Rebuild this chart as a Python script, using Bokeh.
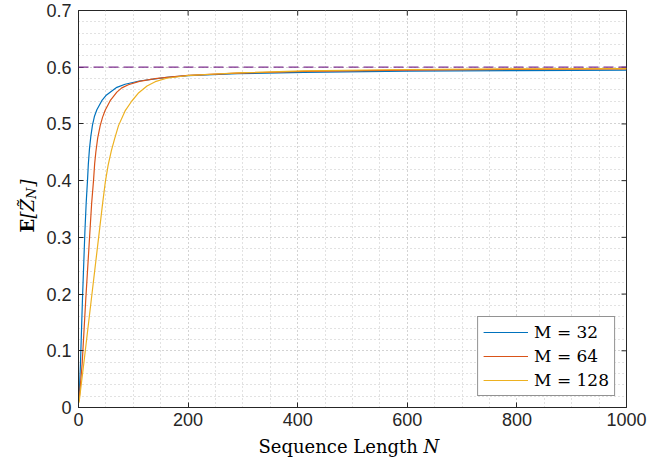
import math
from bokeh.plotting import figure
from bokeh.models import (Label, Span, Legend, LegendItem, FixedTicker,
                          ColumnDataSource, Range1d)
from bokeh.embed import file_html
from bokeh.resources import INLINE

# ---- data ----
N_M32 = [1, 3.6, 7.3, 11.6, 14, 16.4, 18, 20, 22.5, 25.5, 29, 33.5, 42.5, 50, 57.8, 70, 85,
         111, 161, 200, 290, 411, 600, 800, 1000]
Z_M32 = [0.015, 0.078, 0.193, 0.308, 0.36, 0.40, 0.43, 0.456, 0.478, 0.498, 0.513, 0.525,
         0.541, 0.550, 0.556, 0.5645, 0.570, 0.5757, 0.582, 0.585, 0.5885, 0.591, 0.593,
         0.594, 0.595]

N_M64 = [1, 2.5, 6.7, 13.4, 20.7, 24, 27.4, 29.5, 31.6, 35, 39.6, 44, 48.7, 57.8, 70, 79, 91,
         111, 140, 170, 200, 290, 411, 600, 800, 1000]
Z_M64 = [0.012, 0.028, 0.078, 0.193, 0.308, 0.36, 0.40, 0.43, 0.45, 0.475, 0.497, 0.512,
         0.524, 0.541, 0.556, 0.5635, 0.569, 0.575, 0.580, 0.583, 0.5855, 0.5895, 0.5925,
         0.595, 0.5962, 0.597]

N_M128 = [1, 9.7, 23.7, 37.7, 44, 49, 54, 60, 66, 73, 85, 97, 110, 125, 140, 161, 197, 250,
          300, 411, 600, 800, 1000]
Z_M128 = [0.0085, 0.078, 0.193, 0.308, 0.36, 0.398, 0.427, 0.453, 0.474, 0.497, 0.523, 0.540,
          0.555, 0.567, 0.5745, 0.5805, 0.585, 0.588, 0.5905, 0.5935, 0.596, 0.597, 0.5975]

LIMIT = 0.6
SERIES_LABELS = ["M = 32", "M = 64", "M = 128"]
X_TICKS = [0, 200, 400, 600, 800, 1000]
Y_TICKS = [0, 0.1, 0.2, 0.3, 0.4, 0.5, 0.6, 0.7]
X_MINOR = list(range(0, 1001, 50))
Y_MINOR = [round(i * 0.02, 2) for i in range(0, 36)]
X_MAX = 1000
Y_MAX = 0.7

COLORS = ["#0072BD", "#D95319", "#EDB120"]
AX = "#262626"

# frame geometry (pixels) used to place the axis-label pieces
W, H = 656, 458
FL, FR, FT, FB = 78, 626, 10, 407
PX_X = (FR - FL) / X_MAX
PX_Y = (FB - FT) / Y_MAX
def dx(px):
    return (px - FL) / PX_X
def dy(py):
    return (FB - py) / PX_Y

p = figure(width=W, height=H, x_range=Range1d(0, X_MAX), y_range=Range1d(0, Y_MAX),
           output_backend="svg", toolbar_location=None,
           min_border_left=FL, min_border_right=W - FR, min_border_top=FT,
           min_border_bottom=H - FB)
p.background_fill_color = "white"
p.border_fill_color = "white"
p.outline_line_color = AX
p.outline_line_width = 1

xt = FixedTicker(ticks=X_TICKS, minor_ticks=X_MINOR)
yt = FixedTicker(ticks=Y_TICKS, minor_ticks=Y_MINOR)
xax = p.below[0]
yax = p.left[0]
xax.ticker = xt
yax.ticker = yt
yax.major_label_overrides = {0: "0"}

for ax in [xax, yax]:
    ax.axis_line_color = AX
    ax.axis_line_width = 1
    ax.major_tick_line_color = AX
    ax.major_tick_in = 5
    ax.major_tick_out = 0
    ax.minor_tick_in = 0
    ax.minor_tick_out = 0
    ax.major_label_text_font = "Liberation Sans"
    ax.major_label_text_font_size = "18px"
    ax.major_label_text_color = AX
xax.major_label_standoff = 5
yax.major_label_standoff = 7

for g in [p.xgrid[0], p.ygrid[0]]:
    g.grid_line_color = "#c4c4c4"
    g.grid_line_dash = "1 3"
    g.grid_line_width = 1
    g.minor_grid_line_color = "#c4c4c4"
    g.minor_grid_line_dash = "1 3"
    g.minor_grid_line_width = 1
p.xgrid[0].ticker = xt
p.ygrid[0].ticker = yt

# mirrored inward ticks on the top and right edges (box on)
TICK_PX = 5
tx = TICK_PX / PX_X
ty = TICK_PX / PX_Y
p.segment(x0=X_TICKS, x1=X_TICKS, y0=[Y_MAX] * len(X_TICKS), y1=[Y_MAX - ty] * len(X_TICKS),
          line_color=AX, line_width=1)
p.segment(x0=[X_MAX] * len(Y_TICKS), x1=[X_MAX - tx] * len(Y_TICKS), y0=Y_TICKS, y1=Y_TICKS,
          line_color=AX, line_width=1)

renderers = []
for xs, ys, c in [(N_M32, Z_M32, COLORS[0]), (N_M64, Z_M64, COLORS[1]),
                  (N_M128, Z_M128, COLORS[2])]:
    src = ColumnDataSource(dict(x=xs, y=ys))
    r = p.line("x", "y", source=src, line_color=c, line_width=1.2)
    renderers.append(r)

p.add_layout(Span(location=LIMIT, dimension="width", line_color="#7E2F8E",
                  line_dash="10 5", line_width=1.2))

legend = Legend(items=[LegendItem(label=l, renderers=[r]) for l, r in zip(SERIES_LABELS, renderers)],
                location="bottom_right", margin=11, padding=5, spacing=4,
                glyph_width=45, glyph_height=20, label_height=20, label_standoff=6,
                label_text_font="DejaVu Serif", label_text_font_size="17px",
                label_text_color="black",
                border_line_color=AX, border_line_width=1,
                background_fill_color="white", background_fill_alpha=1)
p.add_layout(legend, "center")

# x axis label (in the bottom side panel, so it is not clipped by the frame)
p.add_layout(Label(x=dx(258), y=dy(446), text="Sequence Length \U0001D441",
                   text_font="DejaVu Serif", text_font_size="18px", text_align="left",
                   text_baseline="alphabetic", text_color="black"), "below")

# y axis label  E[Z~_N]  built from rotated pieces
ang = math.pi / 2
def vlab(px, py, t, style, size, side):
    p.add_layout(Label(x=dx(px), y=dy(py), text=t, angle=ang, text_font="DejaVu Serif",
                       text_font_style=style, text_font_size=size, text_align="left",
                       text_baseline="alphabetic", text_color="black"), side)
vlab(27, 232, "E", "bold", "18px", "left")
vlab(27, 218, "[Z\u0303\u2002\u2009]", "italic", "18px", "left")
vlab(31, 198.5, "N", "italic", "13px", "right")

open("out.html", "w").write(file_html(p, INLINE))
